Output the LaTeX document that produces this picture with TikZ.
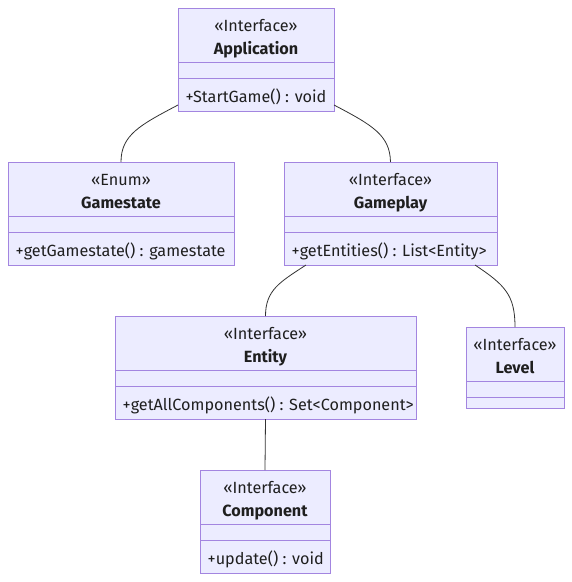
\documentclass[tikz,border=0pt]{standalone}
\usepackage{fontspec}
\setmainfont{Fira Sans}
\usetikzlibrary{calc}
\definecolor{boxfill}{HTML}{ECECFF}
\definecolor{boxline}{HTML}{A385E0}
\definecolor{edgecol}{HTML}{333333}
\tikzset{
  cls/.style={draw=boxline, fill=boxfill, line width=1pt, inner sep=0pt, outer sep=0pt, anchor=north west},
  sep/.style={draw=boxline, line width=1pt},
  txt/.style={inner sep=0pt, anchor=base, font=\fontsize{16.2}{18}\selectfont, text=black!88},
  ttl/.style={txt, font=\fontsize{16.2}{18}\selectfont\bfseries},
  meth/.style={txt, anchor=base west},
  conn/.style={draw=edgecol, line width=0.8pt}
}
\newcommand{\umlclass}[8]{%
  % #1 id, #2 left, #3 top, #4 right, #5 bottom, #6 stereotype, #7 title, #8 method
  \node[cls, minimum width=#4pt-#2pt, minimum height=#5pt-#3pt] (#1) at (#2,#3) {};
  \draw[sep] ($(#1.north west)+(0,54)$) -- ($(#1.north east)+(0,54)$);
  \draw[sep] ($(#1.north west)+(0,70)$) -- ($(#1.north east)+(0,70)$);
  \node[txt] (#1-s) at ($(#1.north)+(0,23)$) {«#6»};
  \node[ttl] (#1-t) at ($(#1.north)+(0,46)$) {#7};
  \node[meth] (#1-m) at ($(#1.north west)+(7.5,94)$) {#8};
}
\begin{document}
\begin{tikzpicture}[x=1pt,y=-1pt]
\useasboundingbox[fill=white] (0,0) rectangle (572,582);

\umlclass{app}{178}{8}{334}{111}{Interface}{Application}{+StartGame() : void}
\umlclass{gs}{8}{162}{234}{265}{Enum}{Gamestate}{+getGamestate() : gamestate}
\umlclass{gp}{284}{162}{497}{265}{Interface}{Gameplay}{+getEntities() : List<Entity>}
\umlclass{ent}{115}{316}{416}{419}{Interface}{Entity}{+getAllComponents() : Set<Component>}
\umlclass{comp}{200}{470}{330}{573}{Interface}{Component}{+update() : void}

% Level (no method)
\node[cls, minimum width=98pt, minimum height=81pt] (lvl) at (466,327) {};
\draw[sep] ($(lvl.north west)+(0,54)$) -- ($(lvl.north east)+(0,54)$);
\draw[sep] ($(lvl.north west)+(0,70)$) -- ($(lvl.north east)+(0,70)$);
\node[txt] (lvl-s) at ($(lvl.north)+(0,23)$) {«Interface»};
\node[ttl] (lvl-t) at ($(lvl.north)+(0,46)$) {Level};

% connectors
\draw[conn] ($(app.south west)+(0,-6)$) .. controls (140,125) and (121,135) .. (gs.north);
\draw[conn] ($(app.south east)+(0,-6)$) .. controls (372,125) and (390,135) .. (gp.north);
\draw[conn] ($(gp.south west)+(22,0)$) .. controls (280,282) and (265.5,290) .. (ent.north);
\draw[conn] ($(gp.south east)+(-22,0)$) .. controls (505,285) and (515,295) .. (lvl.north);
\draw[conn] (ent.south) -- (comp.north);
\end{tikzpicture}
\end{document}
